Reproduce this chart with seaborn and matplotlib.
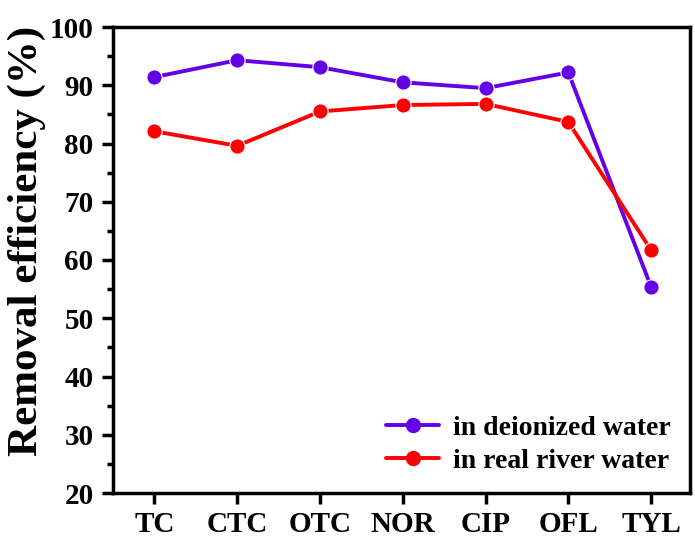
import matplotlib
matplotlib.use("Agg")
import matplotlib.pyplot as plt
import seaborn as sns
import pandas as pd
from matplotlib.ticker import MultipleLocator

categories = ["TC", "CTC", "OTC", "NOR", "CIP", "OFL", "TYL"]
deionized = [91.4, 94.3, 93.1, 90.5, 89.5, 92.2, 55.4]
deionized_err = [0.4, 0.4, 0.4, 0.4, 0.4, 0.4, 0.6]
river = [82.1, 79.6, 85.5, 86.6, 86.8, 83.7, 61.7]
river_err = [0.6, 0.4, 0.4, 0.4, 0.4, 0.4, 0.6]
series_names = ["in deionized water", "in real river water"]
colors = ["#6400E6", "#FF0000"]

sns.set_style("white")
plt.rcParams['font.family'] = ['Liberation Serif', 'DejaVu Serif']
plt.rcParams['font.weight'] = 'bold'
plt.rcParams['text.color'] = 'black'
plt.rcParams['axes.labelcolor'] = 'black'
plt.rcParams['xtick.color'] = 'black'
plt.rcParams['ytick.color'] = 'black'

fig = plt.figure(figsize=(6.95, 5.43), dpi=100)
ax = fig.add_axes([113/695, 1-493/543, (690-113)/695, (493-27)/543])

df = pd.DataFrame({
    "x": list(range(len(categories))) * 2,
    "y": deionized + river,
    "series": [series_names[0]] * len(categories) + [series_names[1]] * len(categories),
})
errs = [deionized_err, river_err]
vals = [deionized, river]

sns.lineplot(data=df, x="x", y="y", hue="series", palette=colors, marker="o",
             markersize=11, linewidth=2.8, markeredgewidth=0.8, ax=ax, legend=False)
for i in range(2):
    ax.errorbar(range(len(categories)), vals[i], yerr=errs[i], fmt="none",
                ecolor=colors[i], elinewidth=1.5, capsize=3, capthick=1.5)
    ax.plot([], [], color=colors[i], marker="o", markersize=10, lw=2.8,
            label=series_names[i])

ax.set_xlim(-0.5, 6.47)
ax.set_ylim(20, 100)
ax.set_xticks(range(len(categories)))
ax.set_xticklabels(categories)
ax.yaxis.set_major_locator(MultipleLocator(10))
ax.yaxis.set_minor_locator(MultipleLocator(5))
ax.set_xlabel("")
ax.set_ylabel("Removal efficiency (%)", fontsize=31, fontweight='bold')
ax.yaxis.set_label_coords(-0.116, 0.54)
ax.tick_params(axis='both', which='major', direction='out', length=8, width=2.5,
               labelsize=21, left=True, bottom=True, top=False, right=False, pad=6)
ax.tick_params(axis='x', which='major', pad=5)
ax.tick_params(axis='y', which='minor', direction='out', length=4, width=2.5, left=True)
for lab in ax.get_xticklabels() + ax.get_yticklabels():
    lab.set_fontweight('bold')
for s in ax.spines.values():
    s.set_linewidth(2.5)
    s.set_color('black')

leg = ax.legend(loc='lower right', frameon=False, prop={'size': 20, 'weight': 'bold'},
                handlelength=1.9, handletextpad=0.5, borderaxespad=0.3, labelspacing=0.25)

fig.savefig("out.png", dpi=100)
